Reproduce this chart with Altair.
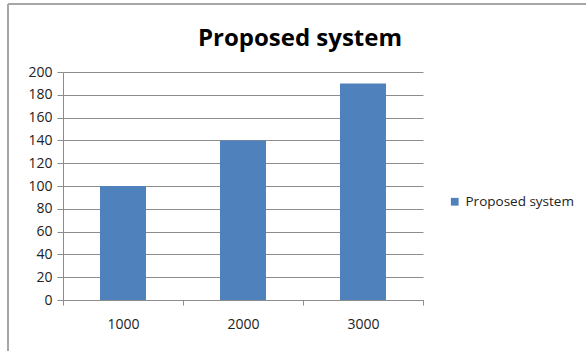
import altair as alt
import pandas as pd

categories = ["1000", "2000", "3000"]
values = [100, 140, 190]
series_name = "Proposed system"
title_text = "Proposed system"

df = pd.DataFrame({"cat": categories, "val": values, "series": [series_name] * 3})
title_df = pd.DataFrame({"t": [title_text]})

FONT = "Open Sans"

bars = alt.Chart(df).mark_bar(size=46).encode(
    x=alt.X("cat:N", sort=categories,
            scale=alt.Scale(paddingInner=0, paddingOuter=0),
            axis=alt.Axis(title=None, labelAngle=0, tickBand="extent", grid=False,
                          domainColor="#8c8c8c", tickColor="#8c8c8c", tickSize=5,
                          labelPadding=12, labelFont=FONT, labelFontSize=14,
                          labelColor="#222222")),
    y=alt.Y("val:Q", scale=alt.Scale(domain=[0, 200], nice=False),
            axis=alt.Axis(title=None, values=list(range(0, 201, 20)),
                          gridColor="#8c8c8c", gridWidth=1, domainColor="#8c8c8c",
                          tickColor="#8c8c8c", tickSize=6, labelPadding=5,
                          labelFont=FONT, labelFontSize=14, labelColor="#222222")),
    color=alt.Color("series:N", scale=alt.Scale(range=["#4F81BD"]),
                    legend=alt.Legend(title=None, orient="none", legendX=385, legendY=123,
                                      symbolType="square", symbolSize=60,
                                      labelFont=FONT, labelFontSize=13.5,
                                      labelColor="#222222", symbolStrokeWidth=0)),
)

frame_left = alt.Chart(df).mark_rule(color="#a6a6a6", strokeWidth=2).encode(
    x=alt.value(-55), y=alt.value(-68), y2=alt.value(290))
frame_top = alt.Chart(df).mark_rule(color="#a6a6a6", strokeWidth=2).encode(
    x=alt.value(-55), x2=alt.value(530), y=alt.value(-68))

title_mark = alt.Chart(title_df).mark_text(
    font=FONT, fontSize=24, fontWeight="bold", color="#000000",
    align="center", baseline="middle").encode(
    text="t:N", x=alt.value(237), y=alt.value(-33))

chart = alt.layer(frame_left, frame_top, title_mark, bars).properties(
    width=360, height=228,
    autosize=alt.AutoSizeParams(type="none"),
    padding={"left": 63, "top": 72, "right": 163, "bottom": 51},
).configure_view(stroke=None)

chart.save("out.html", embed_options={"renderer": "svg", "actions": False})
